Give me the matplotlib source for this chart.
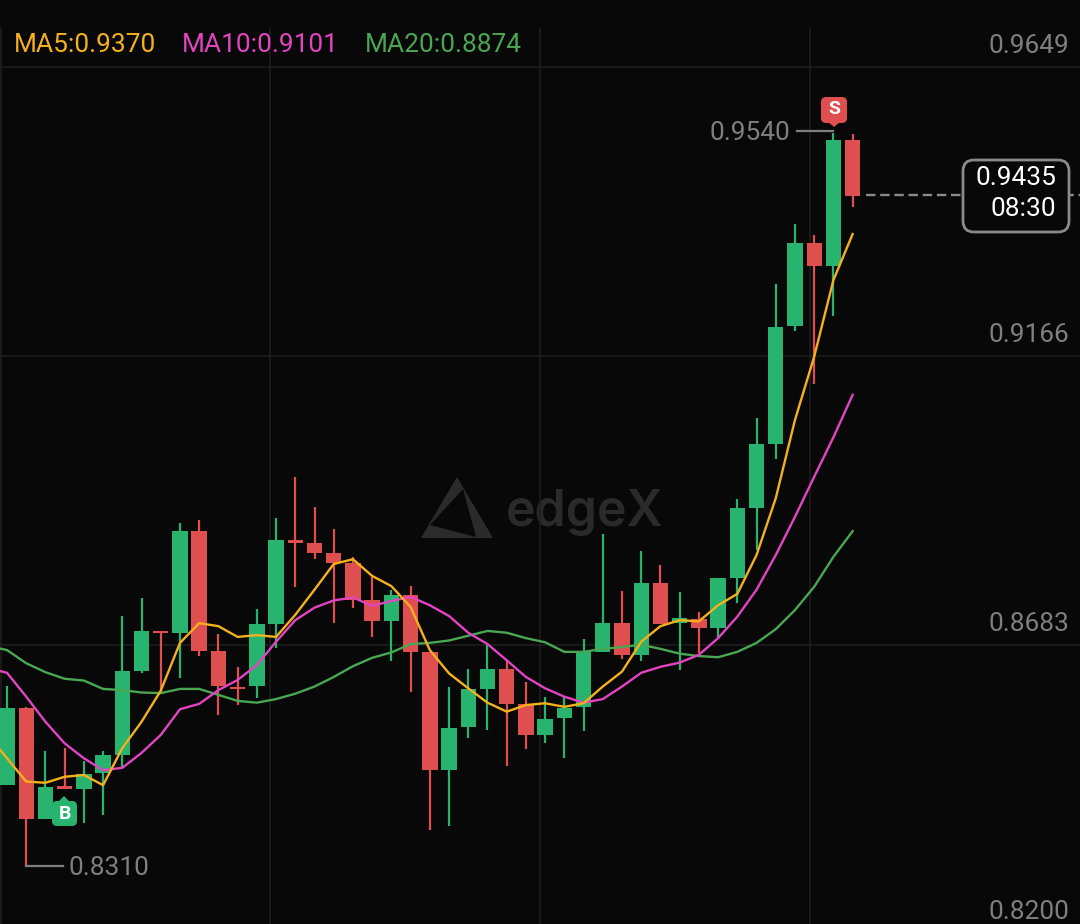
import matplotlib
matplotlib.use("Agg")
import matplotlib.pyplot as plt
from matplotlib.patches import FancyBboxPatch, Polygon
from matplotlib.transforms import Affine2D
import numpy as np

# candles, oldest first
highs = [.8614, .8579, .8505, .8510, .8489, .8505, .8731, .8761, .8706, .8887, .8892, .8701, .8646, .8743, .8895,
         .8964, .8914, .8877, .8830, .8797, .8775, .8781, .8670, .8613, .8642, .8683, .8657, .8621, .8596, .8596,
         .8693, .8868, .8773, .8840, .8816, .8771, .8737, .8795, .8927, .9062, .9286, .9387, .9368, .9539, .9537]
tops = [.8577, .8577, .8445, .8446, .8467, .8498, .8639, .8706, .8706, .8873, .8873, .8673, .8613, .8718, .8858,
        .8858, .8853, .8836, .8820, .8757, .8766, .8766, .8670, .8544, .8609, .8643, .8643, .8584, .8559, .8577,
        .8671, .8720, .8720, .8787, .8787, .8727, .8726, .8795, .8912, .9019, .9215, .9355, .9355, .9527, .9527]
bottoms = [.8448, .8391, .8391, .8442, .8442, .8468, .8498, .8639, .8703, .8703, .8673, .8614, .8609, .8614, .8718,
           .8853, .8836, .8820, .8757, .8723, .8723, .8670, .8473, .8473, .8545, .8609, .8584, .8532, .8532, .8560,
           .8579, .8671, .8666, .8666, .8718, .8719, .8711, .8711, .8795, .8912, .9019, .9216, .9317, .9317, .9434]
lows = [.8448, .8312, .8391, .8442, .8385, .8398, .8479, .8635, .8602, .8627, .8664, .8565, .8582, .8594, .8678,
        .8780, .8826, .8719, .8744, .8696, .8656, .8604, .8373, .8379, .8527, .8540, .8480, .8509, .8519, .8494,
        .8539, .8671, .8659, .8655, .8718, .8641, .8669, .8694, .8753, .8841, .8994, .9207, .9119, .9233, .9416]
is_up = [1, 0, 1, 0, 1, 1, 1, 1, 0, 1, 0, 0, 0, 1, 1, 0, 0, 0, 0, 0, 1, 0, 0, 1, 1, 1, 0, 0, 1, 1,
         1, 1, 0, 1, 0, 1, 0, 1, 1, 1, 1, 1, 0, 1, 0]

# moving averages, they start one candle before the first visible one
ma5 = [.8532, .8493, .8454, .8452, .8462, .8465, .8448, .8510, .8554, .8606, .8686, .8719, .8714, .8696, .8699, .8696,
       .8733, .8775, .8818, .8826, .8798, .8781, .8746, .8674, .8635, .8610, .8586, .8571, .8582, .8585, .8579,
       .8585, .8613, .8638, .8688, .8714, .8724, .8722, .8749, .8768, .8833, .8928, .9059, .9165, .9293, .9370]
ma10 = [.8644, .8636, .8596, .8554, .8518, .8493, .8473, .8477, .8502, .8532, .8575, .8584, .8607, .8624, .8649, .8688,
        .8724, .8745, .8757, .8762, .8748, .8756, .8763, .8749, .8731, .8703, .8684, .8657, .8629, .8610, .8596,
        .8586, .8592, .8613, .8636, .8646, .8653, .8666, .8694, .8730, .8775, .8833, .8897, .8964, .9030, .9101]
ma20 = [.8681, .8674, .8652, .8637, .8626, .8623, .8609, .8607, .8603, .8602, .8609, .8609, .8599, .8589, .8586, .8592,
        .8601, .8613, .8629, .8647, .8661, .8670, .8684, .8686, .8690, .8698, .8706, .8703, .8694, .8687, .8671,
        .8671, .8676, .8679, .8683, .8676, .8668, .8664, .8662, .8671, .8686, .8709, .8741, .8780, .8830, .8873]

price_ticks = [.9649, .9166, .8683, .8200]
price_labels = ["0.9649", "0.9166", "0.8683", "0.8200"]
last_price = 0.9435
high_price = 0.9540
low_price = 0.8310

BG = "#080808"
GREEN = "#28b46e"
RED = "#e04f50"
GRID = "#1f1f1f"
GRAY = "#7f7f7f"
ORANGE = "#f5b11c"
PINK = "#e244c2"
MA_GREEN = "#4aa653"
TEXT_SIZE = 18.9

plt.rcParams["font.family"] = ["Roboto", "DejaVu Sans"]

fig = plt.figure(figsize=(10.8, 9.24), dpi=100, facecolor=BG)
ax = fig.add_axes([0, 0, 1, 1], facecolor=BG)
ax.set_xlim(-0.364, 55.83)
ax.set_ylim(0.82157, 0.97616)
ax.axis("off")

# screen pixels, origin top left
px = Affine2D().scale(1, -1).translate(0, 924)

# watermark
ax.add_patch(Polygon([(457, 477), (493, 538), (421, 538)], transform=px, color="#2b2b2b", lw=0, zorder=1))
ax.add_patch(Polygon([(463, 489), (430, 525), (476, 537)], transform=px, color=BG, lw=0, zorder=1.1))
ax.text(506, 526, "edgeX", transform=px, color="#2a2a2a", fontsize=36, fontweight="semibold",
        family="Inter", ha="left", va="baseline", zorder=1.2)

# grid
for p in price_ticks:
    ax.axhline(p, color=GRID, lw=1.1, zorder=2)
for x in [0.5, 270, 540, 810]:
    ax.plot([x, x], [28, 924], transform=px, color=GRID, lw=1.1, zorder=2)

idx = np.arange(len(highs))
colors = [GREEN if up else RED for up in is_up]
ax.vlines(idx, lows, highs, colors=colors, lw=1.6, zorder=3)
ax.bar(idx, np.array(tops) - np.array(bottoms), bottom=bottoms, width=0.8, color=colors, zorder=3)

ma_x = np.arange(-1, len(highs))
ax.plot(ma_x, ma20, color=MA_GREEN, lw=1.7, zorder=4)
ax.plot(ma_x, ma10, color=PINK, lw=1.7, zorder=5)
ax.plot(ma_x, ma5, color=ORANGE, lw=1.7, zorder=6)

# price labels on the right
for p, lab in zip(price_ticks, price_labels):
    ax.annotate(lab, xy=(1, p), xycoords=("axes fraction", "data"), xytext=(-11, 21), textcoords="offset pixels",
                ha="right", va="center", color=GRAY, fontsize=TEXT_SIZE, annotation_clip=False, zorder=7)

# legend row
ax.text(14, 45, "MA5:0.9370", transform=px, color=ORANGE, fontsize=TEXT_SIZE, va="center", zorder=7)
ax.text(182, 45, "MA10:0.9101", transform=px, color=PINK, fontsize=TEXT_SIZE, va="center", zorder=7)
ax.text(365, 45, "MA20:0.8874", transform=px, color=MA_GREEN, fontsize=TEXT_SIZE, va="center", zorder=7)

# high and low callouts
ax.plot([797, 833], [131, 131], transform=px, color=GRAY, lw=1.6, zorder=7)
ax.text(790, 133, f"{high_price:.4f}", transform=px, color=GRAY, fontsize=TEXT_SIZE, ha="right", va="center", zorder=7)
ax.plot([26, 63], [866, 866], transform=px, color=GRAY, lw=1.6, zorder=7)
ax.text(69, 868, f"{low_price:.4f}", transform=px, color=GRAY, fontsize=TEXT_SIZE, ha="left", va="center", zorder=7)

# current price box
ax.axhline(last_price, xmin=866 / 1080, color="#8a8a8a", lw=1.7, dashes=(4, 2), zorder=7)
ax.add_patch(FancyBboxPatch((972, 169), 88, 54, boxstyle="round,pad=9,rounding_size=11", transform=px,
                            fc=BG, ec="#8a8a8a", lw=2, zorder=8))
ax.text(1056, 178, f"{last_price:.4f}", transform=px, color="white", fontsize=TEXT_SIZE, ha="right", va="center", zorder=9)
ax.text(1056, 209, "08:30", transform=px, color="white", fontsize=TEXT_SIZE, ha="right", va="center", zorder=9)

# S and B tags
ax.add_patch(FancyBboxPatch((825, 101), 18, 18, boxstyle="round,pad=4,rounding_size=5", transform=px,
                            fc=RED, ec="none", zorder=8))
ax.add_patch(Polygon([(828, 122), (840, 122), (834, 127)], transform=px, color=RED, lw=0, zorder=8))
ax.text(834, 109, "S", transform=px, color="white", fontsize=14, fontweight="bold", ha="center", va="center", zorder=9)
ax.add_patch(FancyBboxPatch((56, 805), 17, 17, boxstyle="round,pad=4,rounding_size=5", transform=px,
                            fc=GREEN, ec="none", zorder=8))
ax.add_patch(Polygon([(58, 802), (70, 802), (64, 796)], transform=px, color=GREEN, lw=0, zorder=8))
ax.text(64.5, 814, "B", transform=px, color="white", fontsize=14, fontweight="bold", ha="center", va="center", zorder=9)

plt.savefig("out.png", dpi=100, facecolor=BG)
plt.close()
